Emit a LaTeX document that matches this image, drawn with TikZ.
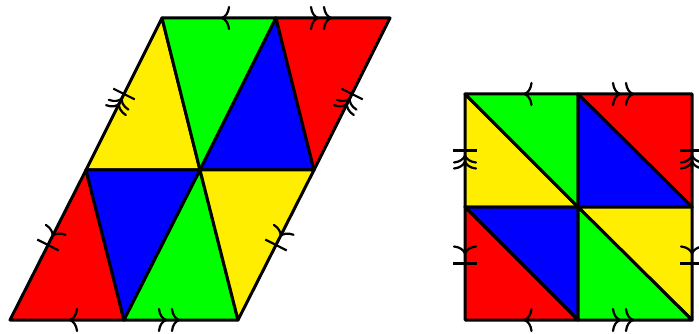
\documentclass[tikz,border=0pt]{standalone}
\usepackage{xcolor}
\usepackage{tikz}
\usetikzlibrary{decorations.markings}

\definecolor{tred}{RGB}{255,0,0}
\definecolor{tgreen}{RGB}{0,255,0}
\definecolor{tblue}{RGB}{0,0,255}
\definecolor{tyellow}{RGB}{255,238,0}

% one curved chevron, tip at #1 along the edge
\newcommand{\mkchev}[1]{\draw[line width=2.2pt, line cap=round] ([xshift=#1]-7pt,11pt) .. controls ([xshift=#1]-6.5pt,5pt) and ([xshift=#1]-3pt,0.8pt) .. ([xshift=#1]0pt,0pt) .. controls ([xshift=#1]-3pt,-0.8pt) and ([xshift=#1]-6.5pt,-5pt) .. ([xshift=#1]-7pt,-11pt);}
% cross bar at #1 along the edge
\newcommand{\mkbar}[1]{\draw[line width=2.2pt] ([xshift=#1]0pt,-12pt) -- ([xshift=#1]0pt,12pt);}

\begin{document}
\begin{tikzpicture}[x=1pt, y=-1pt,
    tri/.style={draw=black, line width=3pt, line join=round},
    mk/.style={postaction={decorate}, decoration={markings,
        mark=at position 0.5 with {#1}}},
    sgl/.style={mk={\mkchev{-3pt}}},
    dbl/.style={mk={\mkchev{-2pt}\mkchev{-15pt}}},
    sglbar/.style={mk={\mkbar{0pt}\mkchev{-10pt}}},
    dblbar/.style={mk={\mkbar{0pt}\mkchev{-5pt}\mkchev{-11pt}}}
  ]
    \useasboundingbox (0,0) rectangle (699,334);

    % parallelogram
    \coordinate (A) at (10,320);
    \coordinate (B) at (124,320);
    \coordinate (C) at (238,320);
    \coordinate (D) at (86,170);
    \coordinate (E) at (200,170);
    \coordinate (F) at (314,170);
    \coordinate (G) at (162,18);
    \coordinate (H) at (276,18);
    \coordinate (I) at (390,18);

    \filldraw[tri, fill=tyellow] (G) -- (D) -- (E) -- cycle;
    \filldraw[tri, fill=tgreen] (G) -- (H) -- (E) -- cycle;
    \filldraw[tri, fill=tblue] (H) -- (E) -- (F) -- cycle;
    \filldraw[tri, fill=tred] (H) -- (I) -- (F) -- cycle;
    \filldraw[tri, fill=tred] (D) -- (A) -- (B) -- cycle;
    \filldraw[tri, fill=tblue] (D) -- (E) -- (B) -- cycle;
    \filldraw[tri, fill=tgreen] (E) -- (B) -- (C) -- cycle;
    \filldraw[tri, fill=tyellow] (E) -- (F) -- (C) -- cycle;

    \path[sgl] (H) -- (G);
    \path[dbl] (H) -- (I);
    \path[sgl] (B) -- (A);
    \path[dbl] (B) -- (C);
    \path[dblbar] (D) -- (G);
    \path[sglbar] (D) -- (A);
    \path[dblbar] (F) -- (I);
    \path[sglbar] (F) -- (C);

    % square
    \coordinate (s1) at (465,94);
    \coordinate (s2) at (578,94);
    \coordinate (s3) at (692,94);
    \coordinate (s4) at (465,207);
    \coordinate (s5) at (578,207);
    \coordinate (s6) at (692,207);
    \coordinate (s7) at (465,320);
    \coordinate (s8) at (578,320);
    \coordinate (s9) at (692,320);

    \filldraw[tri, fill=tyellow] (s1) -- (s4) -- (s5) -- cycle;
    \filldraw[tri, fill=tgreen] (s1) -- (s2) -- (s5) -- cycle;
    \filldraw[tri, fill=tred] (s2) -- (s3) -- (s6) -- cycle;
    \filldraw[tri, fill=tblue] (s2) -- (s5) -- (s6) -- cycle;
    \filldraw[tri, fill=tblue] (s4) -- (s5) -- (s8) -- cycle;
    \filldraw[tri, fill=tred] (s4) -- (s7) -- (s8) -- cycle;
    \filldraw[tri, fill=tyellow] (s5) -- (s6) -- (s9) -- cycle;
    \filldraw[tri, fill=tgreen] (s5) -- (s8) -- (s9) -- cycle;

    \path[sgl] (s2) -- (s1);
    \path[dbl] (s2) -- (s3);
    \path[sgl] (s8) -- (s7);
    \path[dbl] (s8) -- (s9);
    \path[dblbar] (s4) -- (s1);
    \path[sglbar] (s4) -- (s7);
    \path[dblbar] (s6) -- (s3);
    \path[sglbar] (s6) -- (s9);
\end{tikzpicture}
\end{document}
